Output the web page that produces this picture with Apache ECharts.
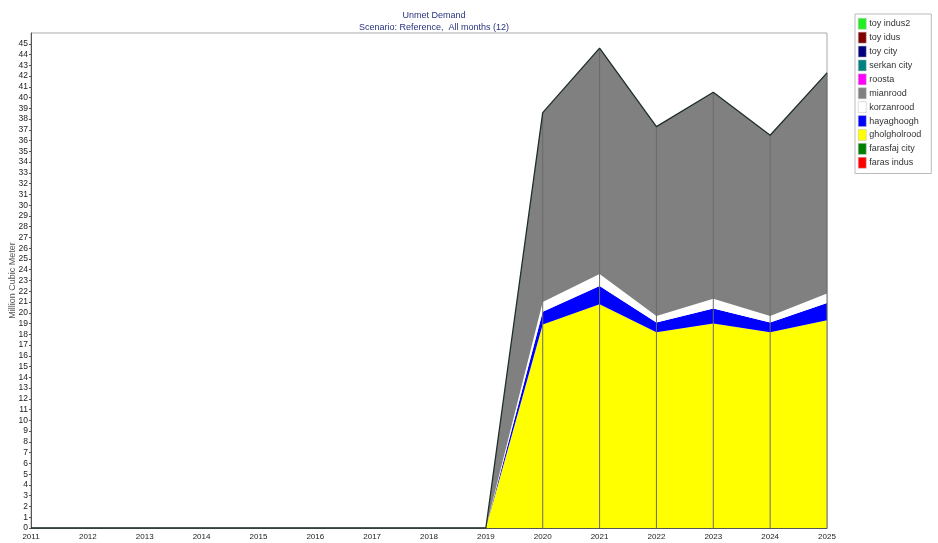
<!DOCTYPE html>
<html>
<head>
<meta charset="utf-8">
<script src="https://cdn.jsdelivr.net/npm/echarts@6/dist/echarts.min.js"></script>
<style>
  html, body { margin: 0; padding: 0; background: #fff; }
  #chart { width: 938px; height: 543px; }
</style>
</head>
<body>
<div id="chart"></div>
<script>
var years = ['2011', '2012', '2013', '2014', '2015', '2016', '2017', '2018', '2019', '2020', '2021', '2022', '2023', '2024', '2025'];

// stacked from bottom to top
var farasIndus    = [0, 0, 0, 0, 0, 0, 0, 0, 0, 0, 0, 0, 0, 0, 0];
var farasfajCity  = [0, 0, 0, 0, 0, 0, 0, 0, 0, 0, 0, 0, 0, 0, 0];
var gholgholrood  = [0, 0, 0, 0, 0, 0, 0, 0, 0, 18.9, 20.8, 18.2, 19.0, 18.2, 19.3];
var hayaghoogh    = [0, 0, 0, 0, 0, 0, 0, 0, 0, 1.2, 1.7, 0.9, 1.4, 0.9, 1.6];
var korzanrood    = [0, 0, 0, 0, 0, 0, 0, 0, 0, 0.9, 1.1, 0.6, 0.9, 0.6, 0.9];
var mianrood      = [0, 0, 0, 0, 0, 0, 0, 0, 0, 17.6, 21.0, 17.6, 19.2, 16.8, 20.5];
var roosta        = [0, 0, 0, 0, 0, 0, 0, 0, 0, 0, 0, 0, 0, 0, 0];
var serkanCity    = [0, 0, 0, 0, 0, 0, 0, 0, 0, 0, 0, 0, 0, 0, 0];
var toyCity       = [0, 0, 0, 0, 0, 0, 0, 0, 0, 0, 0, 0, 0, 0, 0];
var toyIdus       = [0, 0, 0, 0, 0, 0, 0, 0, 0, 0, 0, 0, 0, 0, 0];
var toyIndus2     = [0, 0, 0, 0, 0, 0, 0, 0, 0, 0, 0, 0, 0, 0, 0];

var seriesDefs = [
    { name: 'faras indus',   data: farasIndus,   color: '#ff0000' },
    { name: 'farasfaj city', data: farasfajCity, color: '#008000' },
    { name: 'gholgholrood',  data: gholgholrood, color: '#ffff00' },
    { name: 'hayaghoogh',    data: hayaghoogh,   color: '#0000ff' },
    { name: 'korzanrood',    data: korzanrood,   color: '#ffffff' },
    { name: 'mianrood',      data: mianrood,     color: '#808080' },
    { name: 'roosta',        data: roosta,       color: '#ff00ff' },
    { name: 'serkan city',   data: serkanCity,   color: '#008080' },
    { name: 'toy city',      data: toyCity,      color: '#000080' },
    { name: 'toy idus',      data: toyIdus,      color: '#800000' },
    { name: 'toy indus2',    data: toyIndus2,    color: '#22ee22' }
];

var totals = years.map(function(y, i) {
    var s = 0;
    seriesDefs.forEach(function(d) { s += d.data[i]; });
    return s;
});

var series = seriesDefs.map(function(d) {
    return {
        name: d.name,
        type: 'line',
        stack: 'total',
        data: d.data,
        symbol: 'none',
        color: d.color,
        lineStyle: d.name === 'mianrood' ? { color: '#1e2e28', width: 1.3 } : { width: 0 },
        areaStyle: { color: d.color, opacity: 1 },
        itemStyle: { color: d.color, borderColor: '#888', borderWidth: 1 },
        emphasis: { disabled: true }
    };
});

// thin year separators inside the filled area
series.push({
    name: 'sep',
    type: 'bar',
    data: totals,
    barWidth: 1,
    itemStyle: { color: '#6a6a6a' },
    z: 3,
    silent: true
});

var chart = echarts.init(document.getElementById('chart'));
chart.setOption({
    animation: false,
    title: {
        text: 'Unmet Demand',
        subtext: 'Scenario: Reference,  All months (12)',
        left: 429,
        textAlign: 'center',
        top: 6,
        itemGap: 3,
        textStyle: { fontSize: 9, fontWeight: 'normal', color: '#28337f', fontFamily: 'Liberation Sans' },
        subtextStyle: { fontSize: 9, color: '#28337f', fontFamily: 'Liberation Sans' }
    },
    legend: {
        orient: 'vertical',
        left: 855,
        top: 14,
        padding: [4, 10, 5, 3],
        borderColor: '#bbb',
        borderWidth: 1,
        icon: 'rect',
        itemWidth: 8,
        itemHeight: 11,
        itemGap: 2.4,
        data: seriesDefs.map(function(d) { return d.name; }).reverse(),
        textStyle: { fontSize: 9, color: '#333', padding: [0, 0, 0, -2], fontFamily: 'Liberation Sans' },
        itemStyle: { borderColor: '#bbb', borderWidth: 0.5 },
        selectedMode: false
    },
    grid: {
        left: 31,
        right: 111,
        top: 33,
        bottom: 15,
        show: true,
        borderColor: '#aaa',
        borderWidth: 1,
        containLabel: false,
        outerBoundsMode: 'none'
    },
    xAxis: {
        type: 'category',
        data: years,
        boundaryGap: false,
        axisLine: { lineStyle: { color: '#555' } },
        axisTick: { show: false },
        axisLabel: { fontSize: 8, color: '#222', margin: 5, fontFamily: 'Liberation Sans' },
        splitLine: { show: false }
    },
    yAxis: {
        type: 'value',
        min: 0,
        max: 46,
        interval: 1,
        name: 'Million Cubic Meter',
        nameLocation: 'middle',
        nameGap: 14,
        nameMoveOverlap: false,
        nameTextStyle: { fontSize: 9, color: '#555', fontFamily: 'Liberation Sans' },
        axisLine: { show: true, lineStyle: { color: '#555' } },
        axisTick: { show: true, length: 2, lineStyle: { color: '#555' } },
        axisLabel: {
            fontSize: 8.5, color: '#222', margin: 3, fontFamily: 'Liberation Sans',
            showMaxLabel: false
        },
        splitLine: { show: false }
    },
    series: series
});
</script>
</body>
</html>
